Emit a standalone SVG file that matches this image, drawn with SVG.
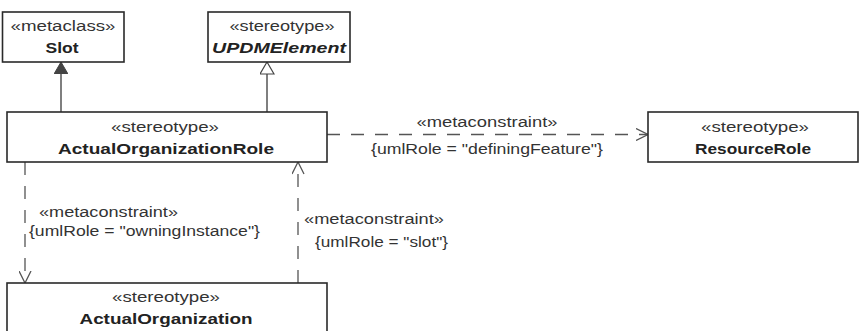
<svg xmlns="http://www.w3.org/2000/svg" width="859" height="331" viewBox="0 0 859 331">
<style>
.box{fill:#fff;stroke:#2a2a2a;stroke-width:1.6}
.t{font-family:"Liberation Sans",Arial,sans-serif;font-size:14px;fill:#333}
.n{font-family:"Liberation Sans",Arial,sans-serif;font-size:15px;font-weight:bold;fill:#222}
.c{text-anchor:middle}
.solid{fill:none;stroke:#555;stroke-width:1.5}
.dash{fill:none;stroke:#555;stroke-width:1.3;stroke-dasharray:13 11}
</style>
<defs>
<marker id="open" viewBox="0 0 13 13" refX="12.5" refY="6.5" markerWidth="13" markerHeight="13" markerUnits="userSpaceOnUse" orient="auto">
<path d="M0.5,0.5 L12.5,6.5 L0.5,12.5" fill="none" stroke="#555" stroke-width="1.3" stroke-dasharray="none"/>
</marker>
<marker id="filled" viewBox="0 0 12 14" refX="12" refY="7" markerWidth="12" markerHeight="14" markerUnits="userSpaceOnUse" orient="auto">
<path d="M0,0 L12,7 L0,14 Z" fill="#444" stroke="#444" stroke-width="1"/>
</marker>
<marker id="hollow" viewBox="0 0 13 15" refX="12.5" refY="7.5" markerWidth="13" markerHeight="15" markerUnits="userSpaceOnUse" orient="auto">
<path d="M0.5,0.5 L12.5,7.5 L0.5,14.5 Z" fill="#fff" stroke="#444" stroke-width="1.2"/>
</marker>
</defs>

<g id="connectors">
<line class="solid" x1="61" y1="112" x2="61" y2="62" marker-end="url(#filled)"/>
<line class="solid" x1="267" y1="112" x2="267" y2="62" marker-end="url(#hollow)"/>
<line class="dash" x1="327" y1="134.5" x2="648" y2="134.5" marker-end="url(#open)"/>
<line class="dash" x1="25" y1="162" x2="25" y2="283" marker-end="url(#open)"/>
<line class="dash" x1="298" y1="283" x2="298" y2="162" marker-end="url(#open)"/>
<text class="t c" x="487" y="127" textLength="141" lengthAdjust="spacingAndGlyphs">«metaconstraint»</text>
<text class="t c" x="487" y="154" textLength="232" lengthAdjust="spacingAndGlyphs">{umlRole = "definingFeature"}</text>
<text class="t" x="39" y="217" textLength="139" lengthAdjust="spacingAndGlyphs">«metaconstraint»</text>
<text class="t" x="29" y="236" textLength="231" lengthAdjust="spacingAndGlyphs">{umlRole = "owningInstance"}</text>
<text class="t" x="304" y="224" textLength="140" lengthAdjust="spacingAndGlyphs">«metaconstraint»</text>
<text class="t" x="315" y="247" textLength="133" lengthAdjust="spacingAndGlyphs">{umlRole = "slot"}</text>
</g>

<g id="Slot">
<rect class="box" x="2.5" y="12" width="121.5" height="50"/>
<text class="t c" x="63" y="31" textLength="105" lengthAdjust="spacingAndGlyphs">«metaclass»</text>
<text class="n c" x="62" y="53" textLength="33" lengthAdjust="spacingAndGlyphs">Slot</text>
</g>

<g id="UPDMElement">
<rect class="box" x="208" y="12" width="142" height="50"/>
<text class="t c" x="282" y="31" textLength="105" lengthAdjust="spacingAndGlyphs">«stereotype»</text>
<text class="n c" x="279" y="53" font-style="italic" textLength="134" lengthAdjust="spacingAndGlyphs">UPDMElement</text>
</g>

<g id="ActualOrganizationRole">
<rect class="box" x="7" y="112" width="320" height="50"/>
<text class="t c" x="165" y="132" textLength="108" lengthAdjust="spacingAndGlyphs">«stereotype»</text>
<text class="n c" x="166" y="154" textLength="216" lengthAdjust="spacingAndGlyphs">ActualOrganizationRole</text>
</g>

<g id="ResourceRole">
<rect class="box" x="648" y="112" width="210" height="50"/>
<text class="t c" x="755" y="132" textLength="108" lengthAdjust="spacingAndGlyphs">«stereotype»</text>
<text class="n c" x="753" y="154" textLength="116" lengthAdjust="spacingAndGlyphs">ResourceRole</text>
</g>

<g id="ActualOrganization">
<rect class="box" x="7" y="283" width="320" height="60"/>
<text class="t c" x="166" y="302" textLength="108" lengthAdjust="spacingAndGlyphs">«stereotype»</text>
<text class="n c" x="166" y="324" textLength="173" lengthAdjust="spacingAndGlyphs">ActualOrganization</text>
</g>
</svg>
